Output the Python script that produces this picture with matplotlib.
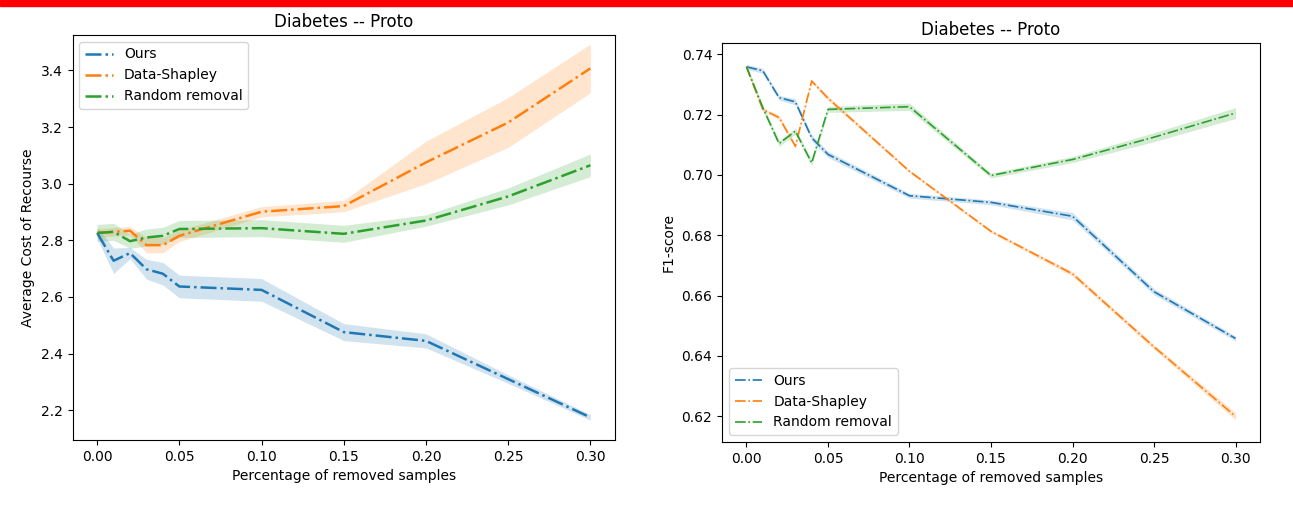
import matplotlib
matplotlib.use("Agg")
import matplotlib.pyplot as plt
from matplotlib.patches import Rectangle
import numpy as np

x = [0.0, 0.01, 0.02, 0.03, 0.04, 0.05, 0.10, 0.15, 0.20, 0.25, 0.30]
labels = ["Ours", "Data-Shapley", "Random removal"]
colors = ["tab:blue", "tab:orange", "tab:green"]

# left: average cost of recourse (mean, half-width of band)
cost_ours = [2.826, 2.728, 2.755, 2.698, 2.682, 2.637, 2.625, 2.476, 2.445, 2.31, 2.175]
cost_ours_err = [0.02, 0.045, 0.02, 0.035, 0.04, 0.04, 0.04, 0.03, 0.025, 0.015, 0.01]
cost_shap = [2.826, 2.83, 2.834, 2.783, 2.783, 2.816, 2.901, 2.921, 3.075, 3.216, 3.407]
cost_shap_err = [0.015, 0.015, 0.015, 0.027, 0.027, 0.02, 0.018, 0.02, 0.075, 0.088, 0.086]
cost_rand = [2.826, 2.83, 2.797, 2.81, 2.816, 2.84, 2.843, 2.823, 2.87, 2.955, 3.065]
cost_rand_err = [0.03, 0.03, 0.025, 0.03, 0.03, 0.03, 0.03, 0.03, 0.02, 0.03, 0.04]

# right: F1-score
f1_ours = [0.7358, 0.7345, 0.7256, 0.7242, 0.7123, 0.7068, 0.6931, 0.6909, 0.6863, 0.6613, 0.6458]
f1_ours_err = [0.0008, 0.0008, 0.0008, 0.001, 0.001, 0.001, 0.0008, 0.0008, 0.0012, 0.001, 0.0008]
f1_shap = [0.7358, 0.7217, 0.719, 0.7095, 0.7311, 0.7254, 0.7012, 0.6813, 0.6672, 0.643, 0.620]
f1_shap_err = [0.0005, 0.0005, 0.0008, 0.0008, 0.0005, 0.0008, 0.0005, 0.0005, 0.0008, 0.0008, 0.0012]
f1_rand = [0.7358, 0.7223, 0.7104, 0.7145, 0.704, 0.7217, 0.7226, 0.6998, 0.7051, 0.7125, 0.7205]
f1_rand_err = [0.0008, 0.001, 0.001, 0.001, 0.001, 0.001, 0.0012, 0.0008, 0.001, 0.0015, 0.0018]

fig = plt.figure(figsize=(12.93, 5.05), dpi=100)
fig.patches.append(Rectangle((0, 1 - 6 / 505), 1, 6 / 505, transform=fig.transFigure,
                             color="red", zorder=10))

ax1 = fig.add_axes([72.5 / 1293, 65 / 505, 542.5 / 1293, 405 / 505])
ax2 = fig.add_axes([722 / 1293, 63 / 505, 538 / 1293, 399 / 505])


def draw(ax, series, lw):
    xs = np.array(x)
    for (m, e), lab, c in zip(series, labels, colors):
        m = np.array(m)
        e = np.array(e)
        ax.plot(xs, m, "-.", color=c, lw=lw, label=lab)
        ax.fill_between(xs, m - e, m + e, color=c, alpha=0.2, lw=0)


draw(ax1, [(cost_ours, cost_ours_err), (cost_shap, cost_shap_err), (cost_rand, cost_rand_err)], 1.8)
ax1.set_title("Diabetes -- Proto")
ax1.set_xlabel("Percentage of removed samples")
ax1.set_ylabel("Average Cost of Recourse")
ax1.set_yticks([2.2, 2.4, 2.6, 2.8, 3.0, 3.2, 3.4])
ax1.set_ylim(2.095, 3.525)
ax1.legend(loc="upper left")

draw(ax2, [(f1_ours, f1_ours_err), (f1_shap, f1_shap_err), (f1_rand, f1_rand_err)], 1.2)
ax2.set_title("Diabetes -- Proto")
ax2.set_xlabel("Percentage of removed samples")
ax2.set_ylabel("F1-score")
ax2.set_yticks([0.62, 0.64, 0.66, 0.68, 0.70, 0.72, 0.74])
ax2.set_ylim(0.6115, 0.7437)
ax2.legend(loc="lower left")

fig.savefig("out.png", dpi=100)
